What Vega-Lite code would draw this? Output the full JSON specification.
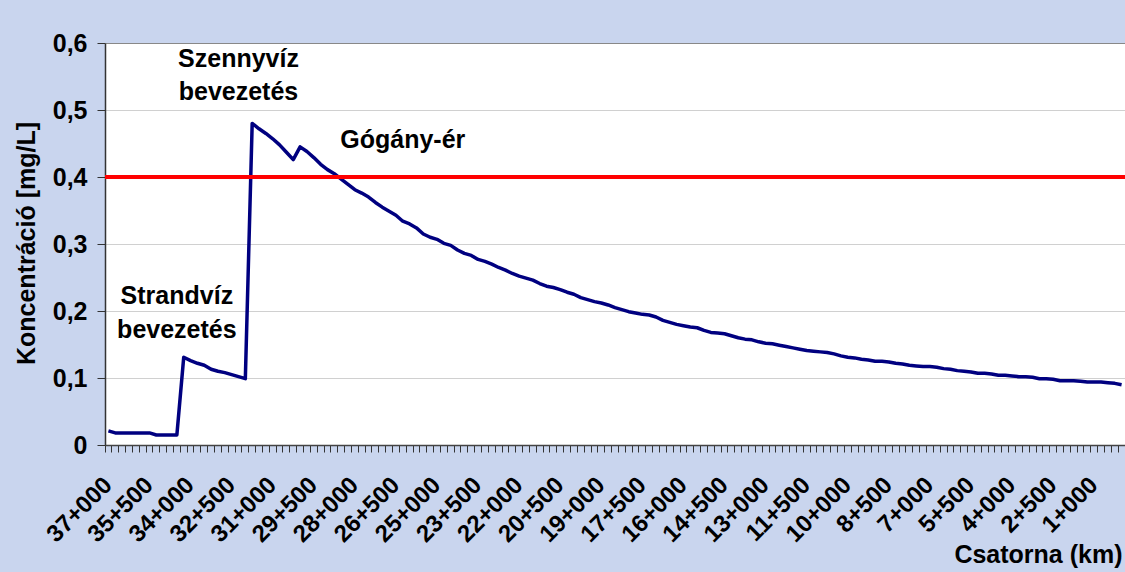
{
  "$schema": "https://vega.github.io/schema/vega-lite/v6.json",
  "width": 1020,
  "height": 402,
  "autosize": {"type": "none"},
  "padding": {"left": 105, "top": 43, "right": 0, "bottom": 127},
  "background": "#C9D5EE",
  "config": {"view": {"fill": "white", "stroke": null}, "font": "Liberation Sans"},
  "datasets": {
    "conc": [
      {"szelveny": "37+000", "koncentracio": 0.021},
      {"szelveny": "36+750", "koncentracio": 0.018},
      {"szelveny": "36+500", "koncentracio": 0.018},
      {"szelveny": "36+250", "koncentracio": 0.018},
      {"szelveny": "36+000", "koncentracio": 0.018},
      {"szelveny": "35+750", "koncentracio": 0.018},
      {"szelveny": "35+500", "koncentracio": 0.018},
      {"szelveny": "35+250", "koncentracio": 0.015},
      {"szelveny": "35+000", "koncentracio": 0.015},
      {"szelveny": "34+750", "koncentracio": 0.015},
      {"szelveny": "34+500", "koncentracio": 0.015},
      {"szelveny": "34+250", "koncentracio": 0.131},
      {"szelveny": "34+000", "koncentracio": 0.126},
      {"szelveny": "33+750", "koncentracio": 0.122},
      {"szelveny": "33+500", "koncentracio": 0.119},
      {"szelveny": "33+250", "koncentracio": 0.113},
      {"szelveny": "33+000", "koncentracio": 0.110},
      {"szelveny": "32+750", "koncentracio": 0.108},
      {"szelveny": "32+500", "koncentracio": 0.105},
      {"szelveny": "32+250", "koncentracio": 0.102},
      {"szelveny": "32+000", "koncentracio": 0.099},
      {"szelveny": "31+750", "koncentracio": 0.480},
      {"szelveny": "31+500", "koncentracio": 0.472},
      {"szelveny": "31+250", "koncentracio": 0.465},
      {"szelveny": "31+000", "koncentracio": 0.457},
      {"szelveny": "30+750", "koncentracio": 0.448},
      {"szelveny": "30+500", "koncentracio": 0.437},
      {"szelveny": "30+250", "koncentracio": 0.426},
      {"szelveny": "30+000", "koncentracio": 0.445},
      {"szelveny": "29+750", "koncentracio": 0.438},
      {"szelveny": "29+500", "koncentracio": 0.429},
      {"szelveny": "29+250", "koncentracio": 0.419},
      {"szelveny": "29+000", "koncentracio": 0.411},
      {"szelveny": "28+750", "koncentracio": 0.405},
      {"szelveny": "28+500", "koncentracio": 0.397},
      {"szelveny": "28+250", "koncentracio": 0.389},
      {"szelveny": "28+000", "koncentracio": 0.381},
      {"szelveny": "27+750", "koncentracio": 0.376},
      {"szelveny": "27+500", "koncentracio": 0.370},
      {"szelveny": "27+250", "koncentracio": 0.362},
      {"szelveny": "27+000", "koncentracio": 0.355},
      {"szelveny": "26+750", "koncentracio": 0.349},
      {"szelveny": "26+500", "koncentracio": 0.343},
      {"szelveny": "26+250", "koncentracio": 0.334},
      {"szelveny": "26+000", "koncentracio": 0.330},
      {"szelveny": "25+750", "koncentracio": 0.324},
      {"szelveny": "25+500", "koncentracio": 0.315},
      {"szelveny": "25+250", "koncentracio": 0.310},
      {"szelveny": "25+000", "koncentracio": 0.307},
      {"szelveny": "24+750", "koncentracio": 0.301},
      {"szelveny": "24+500", "koncentracio": 0.298},
      {"szelveny": "24+250", "koncentracio": 0.291},
      {"szelveny": "24+000", "koncentracio": 0.286},
      {"szelveny": "23+750", "koncentracio": 0.283},
      {"szelveny": "23+500", "koncentracio": 0.277},
      {"szelveny": "23+250", "koncentracio": 0.274},
      {"szelveny": "23+000", "koncentracio": 0.270},
      {"szelveny": "22+750", "koncentracio": 0.265},
      {"szelveny": "22+500", "koncentracio": 0.261},
      {"szelveny": "22+250", "koncentracio": 0.256},
      {"szelveny": "22+000", "koncentracio": 0.252},
      {"szelveny": "21+750", "koncentracio": 0.249},
      {"szelveny": "21+500", "koncentracio": 0.246},
      {"szelveny": "21+250", "koncentracio": 0.241},
      {"szelveny": "21+000", "koncentracio": 0.237},
      {"szelveny": "20+750", "koncentracio": 0.235},
      {"szelveny": "20+500", "koncentracio": 0.232},
      {"szelveny": "20+250", "koncentracio": 0.228},
      {"szelveny": "20+000", "koncentracio": 0.225},
      {"szelveny": "19+750", "koncentracio": 0.220},
      {"szelveny": "19+500", "koncentracio": 0.217},
      {"szelveny": "19+250", "koncentracio": 0.214},
      {"szelveny": "19+000", "koncentracio": 0.212},
      {"szelveny": "18+750", "koncentracio": 0.209},
      {"szelveny": "18+500", "koncentracio": 0.205},
      {"szelveny": "18+250", "koncentracio": 0.202},
      {"szelveny": "18+000", "koncentracio": 0.199},
      {"szelveny": "17+750", "koncentracio": 0.197},
      {"szelveny": "17+500", "koncentracio": 0.195},
      {"szelveny": "17+250", "koncentracio": 0.194},
      {"szelveny": "17+000", "koncentracio": 0.191},
      {"szelveny": "16+750", "koncentracio": 0.186},
      {"szelveny": "16+500", "koncentracio": 0.183},
      {"szelveny": "16+250", "koncentracio": 0.180},
      {"szelveny": "16+000", "koncentracio": 0.178},
      {"szelveny": "15+750", "koncentracio": 0.176},
      {"szelveny": "15+500", "koncentracio": 0.175},
      {"szelveny": "15+250", "koncentracio": 0.171},
      {"szelveny": "15+000", "koncentracio": 0.168},
      {"szelveny": "14+750", "koncentracio": 0.167},
      {"szelveny": "14+500", "koncentracio": 0.166},
      {"szelveny": "14+250", "koncentracio": 0.163},
      {"szelveny": "14+000", "koncentracio": 0.160},
      {"szelveny": "13+750", "koncentracio": 0.158},
      {"szelveny": "13+500", "koncentracio": 0.157},
      {"szelveny": "13+250", "koncentracio": 0.154},
      {"szelveny": "13+000", "koncentracio": 0.152},
      {"szelveny": "12+750", "koncentracio": 0.151},
      {"szelveny": "12+500", "koncentracio": 0.149},
      {"szelveny": "12+250", "koncentracio": 0.147},
      {"szelveny": "12+000", "koncentracio": 0.145},
      {"szelveny": "11+750", "koncentracio": 0.143},
      {"szelveny": "11+500", "koncentracio": 0.141},
      {"szelveny": "11+250", "koncentracio": 0.140},
      {"szelveny": "11+000", "koncentracio": 0.139},
      {"szelveny": "10+750", "koncentracio": 0.138},
      {"szelveny": "10+500", "koncentracio": 0.136},
      {"szelveny": "10+250", "koncentracio": 0.133},
      {"szelveny": "10+000", "koncentracio": 0.131},
      {"szelveny": "9+750", "koncentracio": 0.130},
      {"szelveny": "9+500", "koncentracio": 0.128},
      {"szelveny": "9+250", "koncentracio": 0.127},
      {"szelveny": "9+000", "koncentracio": 0.125},
      {"szelveny": "8+750", "koncentracio": 0.125},
      {"szelveny": "8+500", "koncentracio": 0.124},
      {"szelveny": "8+250", "koncentracio": 0.122},
      {"szelveny": "8+000", "koncentracio": 0.121},
      {"szelveny": "7+750", "koncentracio": 0.119},
      {"szelveny": "7+500", "koncentracio": 0.118},
      {"szelveny": "7+250", "koncentracio": 0.117},
      {"szelveny": "7+000", "koncentracio": 0.117},
      {"szelveny": "6+750", "koncentracio": 0.116},
      {"szelveny": "6+500", "koncentracio": 0.114},
      {"szelveny": "6+250", "koncentracio": 0.113},
      {"szelveny": "6+000", "koncentracio": 0.111},
      {"szelveny": "5+750", "koncentracio": 0.110},
      {"szelveny": "5+500", "koncentracio": 0.109},
      {"szelveny": "5+250", "koncentracio": 0.107},
      {"szelveny": "5+000", "koncentracio": 0.107},
      {"szelveny": "4+750", "koncentracio": 0.106},
      {"szelveny": "4+500", "koncentracio": 0.104},
      {"szelveny": "4+250", "koncentracio": 0.104},
      {"szelveny": "4+000", "koncentracio": 0.103},
      {"szelveny": "3+750", "koncentracio": 0.102},
      {"szelveny": "3+500", "koncentracio": 0.102},
      {"szelveny": "3+250", "koncentracio": 0.101},
      {"szelveny": "3+000", "koncentracio": 0.099},
      {"szelveny": "2+750", "koncentracio": 0.099},
      {"szelveny": "2+500", "koncentracio": 0.098},
      {"szelveny": "2+250", "koncentracio": 0.096},
      {"szelveny": "2+000", "koncentracio": 0.096},
      {"szelveny": "1+750", "koncentracio": 0.096},
      {"szelveny": "1+500", "koncentracio": 0.095},
      {"szelveny": "1+250", "koncentracio": 0.094},
      {"szelveny": "1+000", "koncentracio": 0.094},
      {"szelveny": "0+750", "koncentracio": 0.094},
      {"szelveny": "0+500", "koncentracio": 0.093},
      {"szelveny": "0+250", "koncentracio": 0.092},
      {"szelveny": "0+000", "koncentracio": 0.090}
    ],
    "limit": [
      {"hatarertek": 0.4}
    ],
    "notes": [
      {"szelveny": "32+250", "y": 0.5646, "felirat": "Szennyvíz"},
      {"szelveny": "32+250", "y": 0.515, "felirat": "bevezetés"},
      {"szelveny": "26+250", "y": 0.4428, "felirat": "Gógány-ér"},
      {"szelveny": "34+500", "y": 0.2104, "felirat": "Strandvíz"},
      {"szelveny": "34+500", "y": 0.159, "felirat": "bevezetés"}
    ]
  },
  "layer": [
    {
      "data": {"name": "conc"},
      "mark": {"type": "line", "color": "#000080", "strokeWidth": 3.5, "strokeJoin": "round"},
      "encoding": {
        "x": {
          "field": "szelveny",
          "type": "ordinal",
          "sort": null,
          "scale": {"type": "band", "paddingInner": 0, "paddingOuter": 0},
          "axis": {
            "bandPosition": 0,
            "labelAngle": -45,
            "labelAlign": "right",
            "labelBaseline": "middle",
            "labelPadding": 29,
            "labelExpr": "indexof(['37+000','35+500','34+000','32+500','31+000','29+500','28+000','26+500','25+000','23+500','22+000','20+500','19+000','17+500','16+000','14+500','13+000','11+500','10+000','8+500','7+000','5+500','4+000','2+500','1+000'], datum.value) >= 0 ? datum.value : ''",
            "labelFont": "Liberation Sans",
            "labelFontSize": 24,
            "labelFontWeight": "bold",
            "labelColor": "#000000",
            "tickSize": 7,
            "tickColor": "#333333",
            "tickWidth": 1,
            "domainColor": "#444444",
            "domainWidth": 1.5,
            "grid": false,
            "title": "Csatorna (km)",
            "titleFont": "Liberation Sans",
            "titleFontSize": 25,
            "titleFontWeight": "bold",
            "titleColor": "#000000",
            "titleX": 1017,
            "titleY": 117,
            "titleAlign": "right",
            "titleBaseline": "alphabetic"
          }
        },
        "y": {
          "field": "koncentracio",
          "type": "quantitative",
          "scale": {"domain": [0, 0.6], "nice": false},
          "axis": {
            "values": [0, 0.1, 0.2, 0.3, 0.4, 0.5, 0.6],
            "labelExpr": "datum.value == 0 ? '0' : replace(format(datum.value, '.1f'), '.', ',')",
            "labelFont": "Liberation Sans",
            "labelFontSize": 25,
            "labelFontWeight": "bold",
            "labelColor": "#000000",
            "labelPadding": 10,
            "tickSize": 8,
            "tickColor": "#333333",
            "domainColor": "#333333",
            "domainWidth": 1.5,
            "gridColor": {"condition": {"test": "datum.value >= 0.59", "value": "#888888"}, "value": "#D0D0D0"},
            "gridWidth": 1.2,
            "title": "Koncentráció [mg/L]",
            "titleFont": "Liberation Sans",
            "titleFontSize": 25,
            "titleFontWeight": "bold",
            "titleColor": "#000000",
            "titleAngle": -90,
            "titleX": -79,
            "titleY": 200,
            "titleAlign": "center",
            "titleBaseline": "middle"
          }
        }
      }
    },
    {
      "data": {"name": "limit"},
      "mark": {"type": "rule", "color": "#FF0000", "strokeWidth": 4},
      "encoding": {"y": {"field": "hatarertek", "type": "quantitative"}}
    },
    {
      "data": {"name": "notes"},
      "mark": {"type": "text", "font": "Liberation Sans", "fontWeight": "bold", "fontSize": 25, "align": "center", "baseline": "alphabetic", "color": "#000000"},
      "encoding": {
        "x": {"field": "szelveny", "type": "ordinal", "sort": null},
        "y": {"field": "y", "type": "quantitative"},
        "text": {"field": "felirat"}
      }
    }
  ]
}
